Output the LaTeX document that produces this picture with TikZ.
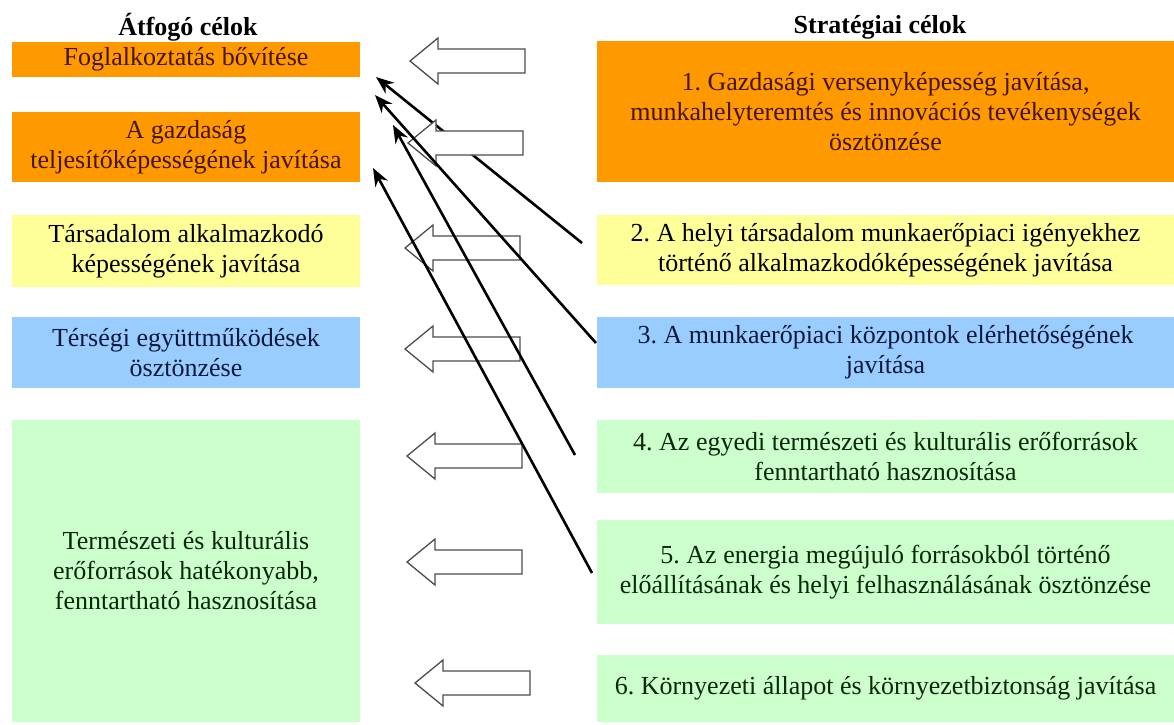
\documentclass[tikz,border=0pt]{standalone}
\usepackage{fontspec}
\setmainfont{Liberation Serif}
\usetikzlibrary{arrows.meta}
\frenchspacing

\definecolor{orangebox}{RGB}{255,153,0}
\definecolor{yellowbox}{RGB}{255,255,153}
\definecolor{bluebox}{RGB}{153,204,255}
\definecolor{greenbox}{RGB}{204,255,204}
\definecolor{orangetext}{RGB}{70,20,0}
\definecolor{bluetext}{RGB}{15,25,60}
\definecolor{greentext}{RGB}{10,40,10}

\tikzset{
  goal/.style={inner sep=0pt, align=center, font=\fontsize{26}{30}\selectfont},
  leftgoal/.style={goal, minimum width=348pt},
  rightgoal/.style={goal, minimum width=577pt},
  link/.style={line width=2.6pt, -{Stealth[length=18pt,width=14pt]}},
  blockarr/.pic={\draw[line width=1.3pt, draw=black!70, fill=white]
      (0,0) -- (28,23) -- (28,12) -- (115,12) -- (115,-12) -- (28,-12) -- (28,-23) -- cycle;}
}

\begin{document}
\begin{tikzpicture}[x=1pt,y=-1pt]

	\useasboundingbox (0,0) rectangle (1174,724);

	%The headings
	\node[goal] (lhead) at (188,27) {\textbf{Átfogó célok}};
	\node[goal] (rhead) at (880,27) {\textbf{Stratégiai célok}};

	%Átfogó célok (left column)
	\node[leftgoal, fill=orangebox, text=orangetext, minimum height=35pt] (l1) at (186,59.5) {Foglalkoztatás bővítése};
	\node[leftgoal, fill=orangebox, text=orangetext, minimum height=70pt] (l2) at (186,147) {A gazdaság\\teljesítőképességének javítása};
	\node[leftgoal, fill=yellowbox, minimum height=72pt] (l3) at (186,251) {Társadalom alkalmazkodó\\képességének javítása};
	\node[leftgoal, fill=bluebox, text=bluetext, minimum height=71pt] (l4) at (186,352.5) {Térségi együttműködések\\ösztönzése};
	\node[leftgoal, fill=greenbox, text=greentext, minimum height=302pt] (l5) at (186,571) {Természeti és kulturális\\erőforrások hatékonyabb,\\fenntartható hasznosítása};

	%Stratégiai célok (right column)
	\node[rightgoal, fill=orangebox, text=orangetext, minimum height=141pt] (r1) at (885.5,111.5) {1. Gazdasági versenyképesség javítása,\\munkahelyteremtés és innovációs tevékenységek\\ösztönzése};
	\node[rightgoal, fill=yellowbox, minimum height=70pt] (r2) at (885.5,250) {2. A helyi társadalom munkaerőpiaci igényekhez\\történő alkalmazkodóképességének javítása};
	\node[rightgoal, fill=bluebox, text=bluetext, minimum height=71pt] (r3) at (885.5,352.5) {3. A munkaerőpiaci központok elérhetőségének\\javítása};
	\node[rightgoal, fill=greenbox, text=greentext, minimum height=73pt] (r4) at (885.5,456.5) {4. Az egyedi természeti és kulturális erőforrások\\fenntartható hasznosítása};
	\node[rightgoal, fill=greenbox, text=greentext, minimum height=104pt] (r5) at (885.5,572) {5. Az energia megújuló forrásokból történő\\előállításának és helyi felhasználásának ösztönzése};
	\node[rightgoal, fill=greenbox, text=greentext, minimum height=67pt] (r6) at (885.5,688.5) {6. Környezeti állapot és környezetbiztonság javítása};

	%Ends of the thin arrows
	\coordinate (s2) at (582,243);
	\coordinate (s3) at (596,343);
	\coordinate (s4) at (575,455);
	\coordinate (s5) at (592,573);
	\coordinate (t2) at (376,77);
	\coordinate (t3) at (375,95);
	\coordinate (t4) at (393,125);
	\coordinate (t5) at (373,168);

	\draw[link] (s2) -- (t2);

	%The hollow arrows
	\pic at (410,61) {blockarr};
	\pic at (408,143) {blockarr};
	\pic at (405,248) {blockarr};
	\pic at (405,349) {blockarr};
	\pic at (407,456) {blockarr};
	\pic at (407,562) {blockarr};
	\pic at (415,683) {blockarr};

	\draw[link] (s3) -- (t3);
	\draw[link] (s4) -- (t4);
	\draw[link] (s5) -- (t5);

\end{tikzpicture}
\end{document}
